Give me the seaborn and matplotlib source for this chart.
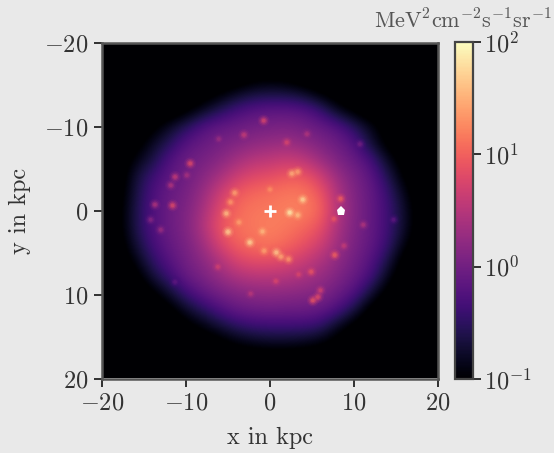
"""Gamma-ray sky map of the galactic plane, face-on view."""
import matplotlib.pyplot as plt
import numpy as np
import seaborn as sns
from matplotlib.cm import ScalarMappable
from matplotlib.colors import LogNorm, Normalize

# log10 of the diffuse flux on a 2 kpc grid, rows y=-20..20, columns x=-20..20
O = -1.3
GRID_X = list(range(-20, 21, 2))
GRID_Y = list(range(-20, 21, 2))
LOG_FLUX = [
    [O] * 21,
    [O] * 21,
    [O, O, O, O, O, O, O, O, O, -1.15, -1.1, -1.15, O, O, O, O, O, O, O, O, O],
    [O, O, O, O, O, O, -1.2, -1.05, -0.85, -0.72, -0.68, -0.7, -0.8, -1.05, -1.2, O, O, O, O, O, O],
    [O, O, O, O, O, -1.1, -0.85, -0.58, -0.35, -0.22, -0.17, -0.17, -0.22, -0.42, -0.85, -1.1, O, O, O, O, O],
    [O, O, O, -1.1, -0.8, -0.55, -0.25, -0.12, -0.07, 0.0, 0.03, 0.05, 0.0, -0.1, -0.22, -0.52, -0.85, -1.15, O, O, O],
    [O, O, -1.15, -0.8, -0.55, -0.2, -0.08, 0.02, 0.1, 0.2, 0.25, 0.3, 0.2, 0.08, -0.05, -0.22, -0.7, -1.1, O, O, O],
    [O, -1.25, -0.9, -0.65, -0.25, -0.05, 0.03, 0.15, 0.35, 0.5, 0.55, 0.62, 0.55, 0.3, 0.08, -0.08, -0.3, -0.8, -1.15, O, O],
    [O, -1.2, -0.7, -0.38, -0.15, -0.02, 0.15, 0.38, 0.65, 0.8, 0.85, 0.95, 0.95, 0.7, 0.3, 0.05, -0.15, -0.55, -1.05, O, O],
    [O, -1.15, -0.65, -0.28, -0.08, 0.03, 0.28, 0.65, 0.95, 1.05, 1.1, 1.15, 1.15, 0.95, 0.45, 0.1, -0.1, -0.4, -0.85, -1.25, O],
    [O, -1.1, -0.6, -0.25, -0.05, 0.08, 0.38, 0.8, 1.05, 1.15, 1.15, 1.2, 1.2, 1.05, 0.5, 0.12, -0.1, -0.36, -0.75, -1.2, O],
    [O, -1.1, -0.6, -0.25, -0.05, 0.1, 0.45, 0.9, 1.1, 1.15, 1.2, 1.15, 1.05, 0.9, 0.42, 0.1, -0.1, -0.36, -0.75, -1.2, O],
    [O, -1.15, -0.7, -0.33, -0.1, 0.05, 0.32, 0.75, 1.0, 1.1, 1.15, 1.05, 0.9, 0.7, 0.35, 0.06, -0.12, -0.4, -0.9, -1.25, O],
    [O, -1.25, -0.9, -0.48, -0.2, 0.0, 0.18, 0.45, 0.75, 0.85, 0.85, 0.78, 0.65, 0.45, 0.22, 0.0, -0.2, -0.6, -1.15, O, O],
    [O, O, -1.15, -0.7, -0.4, -0.08, 0.05, 0.25, 0.42, 0.5, 0.5, 0.48, 0.38, 0.28, 0.1, -0.08, -0.32, -0.85, -1.25, O, O],
    [O, O, O, -1.1, -0.75, -0.4, -0.15, 0.0, 0.1, 0.18, 0.2, 0.18, 0.15, 0.1, -0.05, -0.25, -0.7, -1.15, O, O, O],
    [O, O, O, O, -1.15, -0.8, -0.55, -0.3, -0.12, -0.07, -0.05, -0.07, -0.07, -0.12, -0.3, -0.65, -1.15, O, O, O, O],
    [O, O, O, O, O, -1.15, -0.95, -0.75, -0.55, -0.45, -0.42, -0.42, -0.42, -0.5, -0.85, -1.15, O, O, O, O, O],
    [O, O, O, O, O, O, O, -1.15, -1.0, -0.9, -0.85, -0.85, -0.9, -1.0, -1.15, O, O, O, O, O, O],
    [O] * 21,
    [O] * 21,
]

# point-like sources: position in kpc and level on the colour scale
SPOT_X = [-0.75, -3.1, -6.1, 2.0, 4.4, 10.7, -9.5, -11.3, -9.9, -11.8, -13.7, -11.6, -14.2, -13.0,
          2.6, 3.3, -4.2, -4.7, -5.2, -5.0, -3.7, -2.4, -0.9, 0.75, 1.3, 2.2, -0.7, 3.9, 2.35, 3.3,
          0.0, 8.4, 7.6, 11.1, 14.7, 7.7, 8.8, 4.9, 3.4, 0.7, 6.0, 5.7, 5.1, -11.3, -6.2, -2.3]
SPOT_Y = [-10.7, -9.0, -8.5, -8.1, -9.1, -7.9, -5.6, -4.0, -4.2, -3.0, -0.7, -0.6, 1.1, 2.3,
          -4.4, -4.6, -2.1, -1.0, 0.35, 2.55, 1.4, 3.8, 2.5, 5.0, 5.5, 5.8, 4.8, -1.3, 0.25, 0.55,
          -2.5, -1.4, 1.0, 1.7, 1.1, 5.3, 4.2, 7.3, 7.6, 8.4, 9.5, 10.3, 10.7, 8.5, 6.7, 9.9]
SPOT_LEVEL = [0.6, 0.55, 0.45, 0.6, 0.5, 0.35, 0.62, 0.55, 0.48, 0.5, 0.5, 0.62, 0.4, 0.45,
              0.85, 0.82, 0.82, 0.8, 0.88, 0.92, 0.82, 0.93, 0.87, 0.9, 0.83, 0.8, 0.82, 0.93, 0.98, 0.88,
              0.78, 0.68, 0.65, 0.5, 0.3, 0.68, 0.55, 0.65, 0.6, 0.6, 0.58, 0.62, 0.65, 0.3, 0.58, 0.52]

AXIS_TICKS = [-20, -10, 0, 10, 20]
AXIS_LABELS = ["$-20$", "$-10$", "$0$", "$10$", "$20$"]
CBAR_TICKS = [0.1, 1, 10, 100]
CBAR_LABELS = ["$10^{-1}$", "$10^{0}$", "$10^{1}$", "$10^{2}$"]
GC_POS = (0, 0)
SUN_POS = (8.5, 0)

BG = "#e9e9e9"
sns.set_theme(style="ticks")
plt.rcParams.update({
    "font.family": "cmr10",
    "mathtext.fontset": "cm",
    "axes.formatter.use_mathtext": True,
    "figure.facecolor": BG,
    "text.color": "#333333",
    "xtick.labelcolor": "#333333",
    "ytick.labelcolor": "#333333",
    "axes.labelcolor": "#333333",
})
cmap = sns.color_palette("magma", as_cmap=True)

fig = plt.figure(figsize=(5.54, 4.53), dpi=100)
ax = fig.add_axes([102 / 554, 74 / 453, 336 / 554, 337 / 453])
cax = fig.add_axes([455 / 554, 74 / 453, 18 / 554, 337 / 453])

ax.imshow(
    np.array(LOG_FLUX), cmap=cmap, norm=Normalize(-1, 2), interpolation="bicubic",
    extent=[GRID_X[0] - 1, GRID_X[-1] + 1, GRID_Y[-1] + 1, GRID_Y[0] - 1],
)

# soft glow around each source: darker colour outside, full level at the core
levels = np.array(SPOT_LEVEL)
for size, alpha, drop in [(75, 0.14, 0.08), (42, 0.24, 0.06), (20, 0.4, 0.03), (7, 0.5, 0.0)]:
    ax.scatter(SPOT_X, SPOT_Y, s=size, c=cmap(levels - drop), alpha=alpha, linewidths=0)

ax.plot(*GC_POS, marker="+", color="white", ms=8, mew=2)
ax.plot(*SUN_POS, marker="p", color="white", ms=6.5, mew=0)

ax.set_xlim(-20, 20)
ax.set_ylim(20, -20)
ax.set_xticks(AXIS_TICKS, AXIS_LABELS)
ax.set_yticks(AXIS_TICKS, AXIS_LABELS)
ax.tick_params(length=6, width=1.3, color="#222222", labelsize=17.5, pad=4)
ax.set_xlabel("x in kpc", fontsize=17.5, labelpad=9)
ax.set_ylabel("y in kpc", fontsize=17.5, labelpad=9)
for spine in ax.spines.values():
    spine.set_linewidth(1.8)
    spine.set_color("#555555")

cb = fig.colorbar(ScalarMappable(LogNorm(0.1, 100), cmap), cax=cax)
cb.set_ticks(CBAR_TICKS, labels=CBAR_LABELS)
cb.ax.minorticks_off()
cb.ax.tick_params(length=6, width=1.3, color="#222222", labelsize=17.5, pad=2)
cb.outline.set_linewidth(1.6)
cb.outline.set_edgecolor("#444444")

fig.text(552 / 554, 1 - 20 / 453, r"$\mathrm{MeV}^2\mathrm{cm}^{-2}\mathrm{s}^{-1}\mathrm{sr}^{-1}$",
         ha="right", va="center", fontsize=16, color="#555555")

fig.savefig("out.png", dpi=100, facecolor=BG)
plt.close(fig)
print("Wrote out.png")
